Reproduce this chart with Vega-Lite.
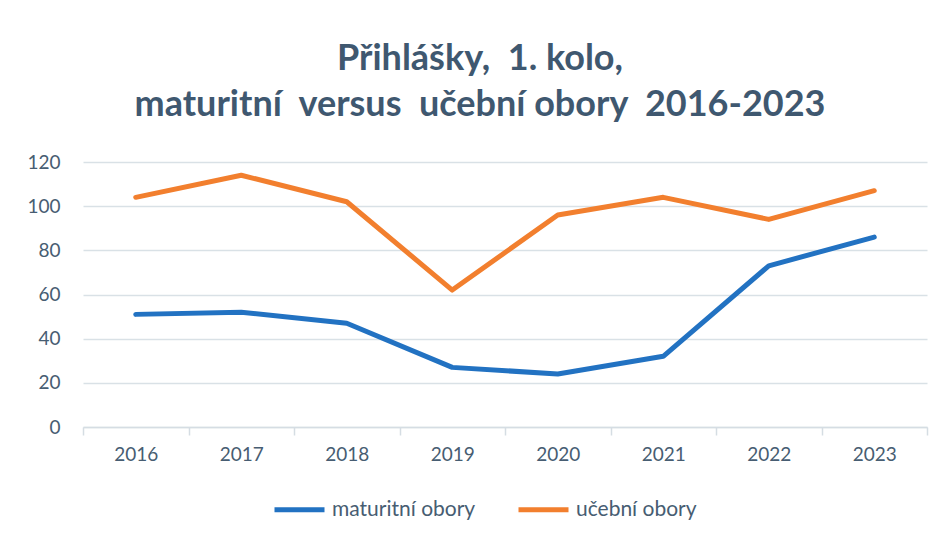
{
  "$schema": "https://vega.github.io/schema/vega-lite/v6.json",
  "autosize": {"type": "none"},
  "width": 844,
  "height": 265,
  "padding": {"left": 83, "top": 162, "right": 20, "bottom": 109},
  "background": "white",
  "title": {
    "text": ["Přihlášky,\u00a0 1. kolo,", "maturitní\u00a0 versus\u00a0 učební obory\u00a0 2016-2023"],
    "font": "Lato",
    "fontSize": 36,
    "fontWeight": "bold",
    "color": "#3F5870",
    "anchor": "middle",
    "dx": -25,
    "offset": 29,
    "lineHeight": 46
  },
  "data": {
    "values": [
      {"rok": "2016", "serie": "maturitní obory", "hodnota": 51},
      {"rok": "2017", "serie": "maturitní obory", "hodnota": 52},
      {"rok": "2018", "serie": "maturitní obory", "hodnota": 47},
      {"rok": "2019", "serie": "maturitní obory", "hodnota": 27},
      {"rok": "2020", "serie": "maturitní obory", "hodnota": 24},
      {"rok": "2021", "serie": "maturitní obory", "hodnota": 32},
      {"rok": "2022", "serie": "maturitní obory", "hodnota": 73},
      {"rok": "2023", "serie": "maturitní obory", "hodnota": 86},
      {"rok": "2016", "serie": "učební obory", "hodnota": 104},
      {"rok": "2017", "serie": "učební obory", "hodnota": 114},
      {"rok": "2018", "serie": "učební obory", "hodnota": 102},
      {"rok": "2019", "serie": "učební obory", "hodnota": 62},
      {"rok": "2020", "serie": "učební obory", "hodnota": 96},
      {"rok": "2021", "serie": "učební obory", "hodnota": 104},
      {"rok": "2022", "serie": "učební obory", "hodnota": 94},
      {"rok": "2023", "serie": "učební obory", "hodnota": 107}
    ]
  },
  "mark": {"type": "line", "strokeWidth": 5, "strokeCap": "round", "strokeJoin": "round"},
  "encoding": {
    "x": {
      "field": "rok",
      "type": "ordinal",
      "bandPosition": 0.5,
      "scale": {"type": "band", "paddingInner": 0, "paddingOuter": 0},
      "axis": {
        "title": null,
        "labelAngle": 0,
        "tickBand": "extent",
        "domainColor": "#D5DDE3",
        "domainWidth": 1.5,
        "tickColor": "#D5DDE3",
        "tickWidth": 1.5,
        "tickSize": 8,
        "labelPadding": 10,
        "labelFont": "Lato",
        "labelFontSize": 19,
        "labelColor": "#475D72",
        "grid": false
      }
    },
    "y": {
      "field": "hodnota",
      "type": "quantitative",
      "scale": {"domain": [0, 120], "nice": false},
      "axis": {
        "title": null,
        "values": [0, 20, 40, 60, 80, 100, 120],
        "domain": false,
        "ticks": false,
        "labelPadding": 23,
        "labelFont": "Lato",
        "labelFontSize": 19,
        "labelColor": "#475D72",
        "gridColor": "#D9E1E6",
        "gridWidth": 1.5
      }
    },
    "color": {
      "field": "serie",
      "type": "nominal",
      "scale": {"domain": ["maturitní obory", "učební obory"], "range": ["#2272C2", "#F27F2E"]},
      "legend": {
        "title": null,
        "orient": "none",
        "direction": "horizontal",
        "legendX": 189,
        "legendY": 320,
        "symbolType": "stroke",
        "symbolSize": 2500,
        "symbolStrokeWidth": 5,
        "labelFont": "Lato",
        "labelFontSize": 21,
        "labelColor": "#475D72",
        "columnPadding": 32,
        "labelOffset": 5
      }
    }
  },
  "config": {"view": {"stroke": null}}
}
